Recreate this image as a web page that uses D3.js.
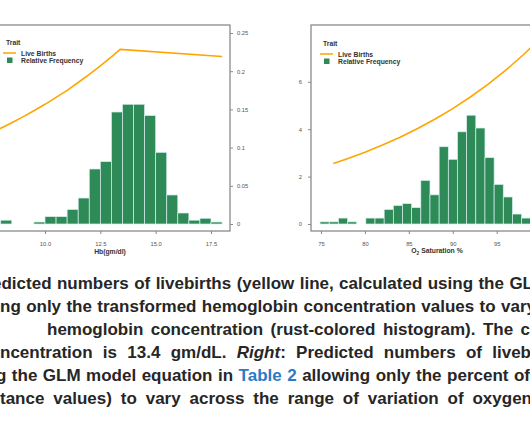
<!DOCTYPE html>
<html><head><meta charset="utf-8">
<script src="https://cdn.jsdelivr.net/npm/d3@7"></script>
<style>body{margin:0;background:#fff;} svg{display:block;font-family:"Liberation Sans",Arial,Helvetica,sans-serif;}</style>
</head><body>
<svg id="c" width="530" height="442"></svg>
<script>
// ---------- DATA ----------
// Left panel: hemoglobin (Hb, gm/dl) histogram, bin width 0.5
const hbBinLo = [8.0,8.5,9.0,9.5,10.0,10.5,11.0,11.5,12.0,12.5,13.0,13.5,14.0,14.5,15.0,15.5,16.0,16.5,17.0,17.5];
const hbBinWidth = 0.5;
const hbFreq  = [0.005,0,0,0.0026,0.0096,0.0096,0.019,0.034,0.072,0.0816,0.1466,0.1567,0.1567,0.142,0.0938,0.038,0.0144,0.005,0.0075,0.0026];
// Left panel: predicted live births
const hbLineX = [7.5,8.0,8.5,9.0,9.5,10.0,10.5,11.0,11.5,12.0,12.5,13.0,13.4,18.0];
const hbLineY = [3.82,4.04,4.27,4.52,4.78,5.05,5.34,5.64,5.97,6.31,6.67,7.05,7.37,7.07];
const hbXTicks = [10.0,12.5,15.0,17.5];
const hbYTicks = [0,0.05,0.1,0.15,0.2,0.25];
const hbYTickLabels = ["0","0.05","0.1","0.15","0.2","0.25"];

// Right panel: O2 saturation histogram
const o2BinStart = 74.89;
const o2BinWidth = 1.043;
const o2Freq = [0.09,0.09,0.25,0.09,0,0.25,0.25,0.61,0.78,0.86,0.69,1.84,1.23,3.26,2.73,3.89,4.59,4.05,2.8,1.67,1.14,0.42,0.25];
const o2LineX = [76.4,78,80,82,84,86,88,90,92,94,96,98,100];
const o2LineY = [2.55,2.75,3.03,3.33,3.66,4.03,4.43,4.87,5.36,5.89,6.48,7.13,7.85];
const o2XTicks = [75,80,85,90,95];
const o2YTicks = [0,2,4,6];

const legendTitle = "Trait";
const legendItems = ["Live Births","Relative Frequency"];

// Caption lines (visible portion); segments with style
const captionLines = [
  {x0:-8, x1:533, segs:[{t:"edicted numbers of livebirths (yellow line, calculated using the GL"}]},
  {x0:0,  x1:536, segs:[{t:"ng only the transformed hemoglobin concentration values to vary"}]},
  {x0:47, x1:530, segs:[{t:"hemoglobin concentration (rust-colored histogram). The c"}]},
  {x0:0,  x1:531, segs:[{t:"ncentration is 13.4 gm/dL. "},{t:"Right",i:true},{t:": Predicted numbers of liveb"}]},
  {x0:-4, x1:530, segs:[{t:"g the GLM model equation in "},{t:"Table 2",c:"#2a7bc4"},{t:" allowing only the percent of"}]},
  {x0:0,  x1:532, segs:[{t:"tance values) to vary across the range of variation of oxygen"}]}
];

// ---------- STYLE ----------
const GREEN = "#2e8b57", BAR_STROKE = "#d5eef0", ORANGE = "#ffa500", AXIS = "#8a8a8a";
const svg = d3.select("#c");

function drawLegend(g, x, y) {
  g.append("text").attr("x", x).attr("y", y).text(legendTitle)
    .attr("font-size", 6.8).attr("font-weight", "bold").attr("fill", "#333");
  g.append("line").attr("x1", x - 3).attr("x2", x + 10).attr("y1", y + 8).attr("y2", y + 8)
    .attr("stroke", ORANGE).attr("stroke-width", 1.5);
  g.append("text").attr("x", x + 15).attr("y", y + 10.5).text(legendItems[0])
    .attr("font-size", 6.8).attr("font-weight", "bold").attr("fill", "#333");
  g.append("rect").attr("x", x + 1).attr("y", y + 12.5).attr("width", 5.5).attr("height", 5.5)
    .attr("fill", GREEN);
  g.append("text").attr("x", x + 15).attr("y", y + 17.5).text(legendItems[1])
    .attr("font-size", 6.8).attr("font-weight", "bold").attr("fill", "#333");
}

function styleTicks(sel, fs) {
  sel.selectAll(".domain").remove();
  sel.selectAll(".tick line").attr("stroke", AXIS).attr("stroke-width", 1);
  sel.selectAll(".tick text").attr("fill", "#555").attr("font-size", fs)
     .attr("font-family", "'Liberation Sans',Arial,sans-serif");
}

// ---------- LEFT PANEL ----------
(function(){
  const frame = {x0:-14, x1:230, y0:25, y1:231};
  const x = d3.scaleLinear().domain([10, 17.5]).range([45, 211]);
  const yF = d3.scaleLinear().domain([0, 0.25]).range([224, 33]);
  const yL = d3.scaleLinear().domain([0, 8]).range([224, 34.4]);
  const g = svg.append("g");

  g.selectAll("rect.bar").data(hbFreq).join("rect").attr("class","bar")
    .attr("x", (d,i) => x(hbBinLo[i]))
    .attr("width", (d,i) => x(hbBinLo[i] + hbBinWidth) - x(hbBinLo[i]))
    .attr("y", d => yF(d)).attr("height", d => yF(0) - yF(d))
    .attr("fill", GREEN).attr("stroke", BAR_STROKE).attr("stroke-width", 0.7);

  g.append("path").datum(hbLineX.map((v,i)=>[v,hbLineY[i]]))
    .attr("d", d3.line().x(d=>x(d[0])).y(d=>yL(d[1])))
    .attr("fill","none").attr("stroke",ORANGE).attr("stroke-width",1.6);

  g.append("rect").attr("x",frame.x0).attr("y",frame.y0)
    .attr("width",frame.x1-frame.x0).attr("height",frame.y1-frame.y0)
    .attr("fill","none").attr("stroke",AXIS).attr("stroke-width",1.3);

  const ax = g.append("g").attr("transform",`translate(0,${frame.y1})`)
    .call(d3.axisBottom(x).tickValues(hbXTicks).tickFormat(d3.format(".1f")).tickSize(3).tickPadding(8));
  styleTicks(ax, 5.8);
  const ay = g.append("g").attr("transform",`translate(${frame.x1},0)`)
    .call(d3.axisRight(yF).tickValues(hbYTicks).tickFormat((d,i)=>hbYTickLabels[i]).tickSize(3).tickPadding(4));
  styleTicks(ay, 5.8);

  g.append("text").attr("x", 110).attr("y", 254).attr("text-anchor","middle")
    .attr("font-size", 6.8).attr("font-weight","bold").attr("fill","#333").text("Hb(gm/dl)");
  drawLegend(g, 6, 45);
})();

// ---------- RIGHT PANEL ----------
(function(){
  const frame = {x0:311, x1:560, y0:25, y1:231};
  const x = d3.scaleLinear().domain([75, 95]).range([321, 496.7]);
  const y = d3.scaleLinear().domain([0, 6]).range([224, 81.8]);
  const g = svg.append("g");

  g.selectAll("rect.bar").data(o2Freq).join("rect").attr("class","bar")
    .attr("x", (d,i) => x(o2BinStart + i*o2BinWidth))
    .attr("width", (d,i) => x(o2BinStart + (i+1)*o2BinWidth) - x(o2BinStart + i*o2BinWidth))
    .attr("y", d => y(d)).attr("height", d => y(0) - y(d))
    .attr("fill", GREEN).attr("stroke", BAR_STROKE).attr("stroke-width", 0.7);

  g.append("path").datum(o2LineX.map((v,i)=>[v,o2LineY[i]]))
    .attr("d", d3.line().x(d=>x(d[0])).y(d=>y(d[1])))
    .attr("fill","none").attr("stroke",ORANGE).attr("stroke-width",1.6);

  g.append("rect").attr("x",frame.x0).attr("y",frame.y0)
    .attr("width",frame.x1-frame.x0).attr("height",frame.y1-frame.y0)
    .attr("fill","none").attr("stroke",AXIS).attr("stroke-width",1.3);

  const ax = g.append("g").attr("transform",`translate(0,${frame.y1})`)
    .call(d3.axisBottom(x).tickValues(o2XTicks).tickFormat(d3.format("d")).tickSize(3).tickPadding(8));
  styleTicks(ax, 5.8);
  const ay = g.append("g").attr("transform",`translate(${frame.x0},0)`)
    .call(d3.axisLeft(y).tickValues(o2YTicks).tickFormat(d3.format("d")).tickSize(3).tickPadding(6));
  styleTicks(ay, 5.8);

  const t = g.append("text").attr("x", 437).attr("y", 253).attr("text-anchor","middle")
    .attr("font-size", 6.8).attr("font-weight","bold").attr("fill","#333");
  t.append("tspan").text("O");
  t.append("tspan").text("2").attr("font-size",4.8).attr("dy",1.5);
  t.append("tspan").text(" Saturation %").attr("dy",-1.5);
  drawLegend(g, 323, 46);
})();

// ---------- CAPTION ----------
const baselines = [289, 312, 335, 358, 381, 404];
captionLines.forEach((ln, k) => {
  const t = svg.append("text").attr("x", ln.x0).attr("y", baselines[k])
    .attr("font-size", 17).attr("font-weight", "bold").attr("fill", "#262626")
    .style("white-space","pre");
  ln.segs.forEach(s => {
    const sp = t.append("tspan").text(s.t);
    if (s.i) sp.attr("font-style","italic");
    if (s.c) sp.attr("fill", s.c);
  });
  const w = t.node().getComputedTextLength();
  const full = ln.segs.map(s=>s.t).join("");
  const n = (full.match(/ /g) || []).length;
  const ws = n ? ((ln.x1 - ln.x0) - w) / n : 0;
  t.attr("word-spacing", Math.max(0, ws));
});
</script>
</body></html>
